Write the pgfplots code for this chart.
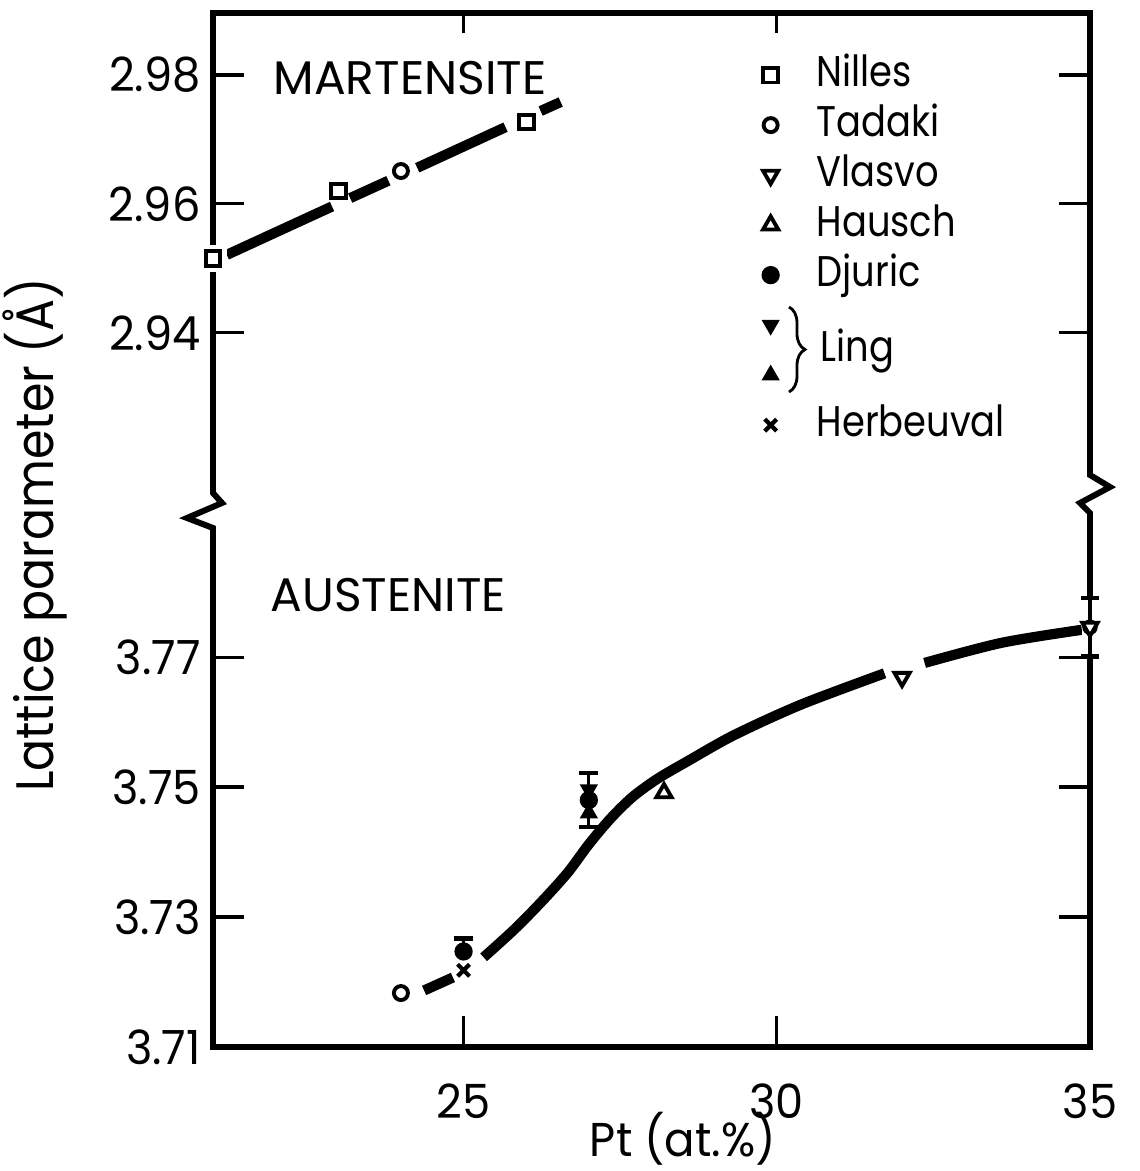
\documentclass[border=0pt]{standalone}
\usepackage{fontspec}
\setmainfont{Poppins}[FakeStretch=0.95]
\newfontfamily\ylabfont{Poppins}[FakeStretch=0.9]
\newfontfamily\legfont{Poppins}[FakeStretch=0.86]
\newfontfamily\capfont{Poppins}[FakeStretch=1.0]
\usepackage{pgfplots}
\pgfplotsset{compat=1.18}
\usetikzlibrary{decorations.pathreplacing}

\pgfplotsset{
  brk/.style={
    scale only axis, width=8.77cm, xmin=21, xmax=35, clip=false,
    anchor=south west,
    axis line style={draw=none},
    tick align=inside, major tick length=3.1mm,
    every tick/.append style={black, line width=0.9pt},
    /pgf/number format/assume math mode=true,
    tick label style={font=\fontsize{13.4}{15}\selectfont},
  },
  nil/.style={only marks, mark=square*, mark size=2.1pt, mark options={line width=1.1pt, fill=white, draw=black}},
  tad/.style={only marks, mark=*, mark size=2.0pt, mark options={line width=1.1pt, fill=white, draw=black}},
  vla/.style={only marks, mark=triangle*, mark size=2.5pt, mark options={rotate=180, line width=1.1pt, fill=white, draw=black}},
  hau/.style={only marks, mark=triangle*, mark size=2.5pt, mark options={line width=1.1pt, fill=white, draw=black}},
  dju/.style={only marks, mark=*, mark size=2.4pt, mark options={fill=black, draw=black}},
  lingd/.style={only marks, mark=triangle*, mark size=2.6pt, mark options={rotate=180, fill=black, draw=black}},
  lingu/.style={only marks, mark=triangle*, mark size=2.6pt, mark options={fill=black, draw=black}},
  her/.style={only marks, mark=x, mark size=2.4pt, mark options={line width=1.2pt, draw=black}},
  thick line/.style={black, line width=2.9pt, line cap=butt},
  eb/.style={error bars/y explicit, error bars/y dir=#1,
     error bars/error bar style={line width=0.9pt, black},
     error bars/error mark options={rotate=90, line width=1.2pt, mark size=2.7pt, black}},
}

\begin{document}
\begin{tikzpicture}
\useasboundingbox (0,0) rectangle (11.39,11.71);
% frame with break marks
\draw[line width=1.7pt, line join=miter]
  (2.13,1.24) -- (2.13,6.43) -- (1.87,6.53) -- (2.22,6.68) -- (2.13,6.78) -- (2.13,11.58)
  -- (10.90,11.58) -- (10.90,6.96) -- (11.10,6.84) -- (10.80,6.68) -- (10.90,6.58) -- (10.90,1.24) -- cycle;

% ---------------- upper part: martensite ----------------
\begin{axis}[brk, at={(2.13cm,6.53cm)}, height=5.05cm,
  ymin=2.9113, ymax=2.9896,
  ytick={2.94,2.96,2.98}, yticklabels={2.94,2.96,2.98},
  xtick={25,30}, xtick pos=top, xticklabels={},
  xtick style={/pgfplots/major tick length=2mm},
  legend cell align=left,
  legend style={at={(rel axis cs:0.6214,0.919)}, anchor=north west, draw=none, fill=none,
    inner sep=0pt, row sep=0.9mm, font=\legfont\fontsize{12.2}{14}\selectfont,
    nodes={inner sep=0pt, text height=3.2mm, text depth=0.9mm}},
  legend image code/.code={\path[draw=none, fill=none] (-1.2mm,-2mm) rectangle (4.6mm,2mm);
     \draw[mark repeat=2,mark phase=2,#1] plot coordinates {(0mm,0mm)(0mm,0mm)(0mm,0mm)};},
]
\addplot[thick line, forget plot] coordinates {(21.22,2.9521) (22.90,2.9596)};
\addplot[thick line, forget plot] coordinates {(23.19,2.9609) (23.80,2.9636)};
\addplot[thick line, forget plot] coordinates {(24.26,2.9656) (25.67,2.9719)};
\addplot[thick line, forget plot] coordinates {(26.23,2.9744) (26.55,2.9758)};
% halo where the square sits on the axis line
\addplot[only marks, mark=square*, mark size=2.1pt, mark options={white, line width=3.5pt}, forget plot] coordinates {(21,2.9515)};
\addplot[nil, forget plot] coordinates {(21,2.9515) (23,2.9620) (26,2.9727)};
\addplot[tad, forget plot] coordinates {(24,2.9651)};

\addlegendimage{nil}\addlegendentry{Nilles}
\addlegendimage{tad}\addlegendentry{Tadaki}
\addlegendimage{vla}\addlegendentry{Vlasvo}
\addlegendimage{hau}\addlegendentry{Hausch}
\addlegendimage{dju}\addlegendentry{Djuric}
\addlegendimage{lingd}\addlegendentry{\phantom{L}}
\addlegendimage{lingu}\addlegendentry{\phantom{L}}
\addlegendimage{her}\addlegendentry{Herbeuval}
\end{axis}

% ---------------- lower part: austenite ----------------
\begin{axis}[brk, at={(2.13cm,1.24cm)}, height=5.29cm,
  ymin=3.71, ymax=3.7914,
  ytick={3.71,3.73,3.75,3.77}, yticklabels={3.71,3.73,3.75,3.77},
  xtick={25,30,35}, xtick pos=bottom, xticklabels={25,30,35},
  xticklabel style={yshift=-2.4mm},
]
\addplot[thick line, forget plot] coordinates {(24.37,3.7187) (24.83,3.7207)};
\addplot[thick line, smooth, tension=0.5, forget plot] coordinates {
  (25.32,3.7238) (25.80,3.7280) (26.23,3.7322) (26.66,3.7368) (27.00,3.7412)
  (27.35,3.7452) (27.70,3.7485) (28.10,3.7513) (28.58,3.7540) (29.32,3.7580)
  (30.39,3.7627) (31.72,3.7675)};
\addplot[thick line, smooth, tension=0.5, forget plot] coordinates {
  (32.36,3.7691) (33.59,3.7722) (34.87,3.7742)};

\addplot[tad, forget plot] coordinates {(24,3.7183)};
\addplot[her, forget plot] coordinates {(25,3.7218)};
\addplot[dju, eb=plus, forget plot] coordinates {(25,3.7247) +- (0,0.0020)};
\addplot[lingd, eb=plus, forget plot] coordinates {(27,3.7496) +- (0,0.0026)};
\addplot[lingu, eb=minus, forget plot] coordinates {(27,3.7460) +- (0,0.0022)};
\addplot[dju, forget plot] coordinates {(27,3.7480)};
\addplot[hau, forget plot] coordinates {(28.2,3.7491)};
\addplot[vla, forget plot] coordinates {(32,3.7669)};
% white gap in the right axis line where the error bar replaces it
\addplot[only marks, mark=none, error bars/y explicit, error bars/y dir=both,
  error bars/error bar style={white, line width=4.5pt}, error bars/error mark=none, forget plot]
  coordinates {(35,3.7746) +- (0,0.0047)};
\addplot[vla, eb=both, forget plot] coordinates {(35,3.7746) +- (0,0.0045)};
\end{axis}

% texts
\node[anchor=base west, inner sep=0pt, font=\capfont\fontsize{13.4}{15}\selectfont] at (2.73,10.76) {MARTENSITE};
\node[anchor=base west, inner sep=0pt, font=\capfont\fontsize{13.4}{15}\selectfont] at (2.70,5.59) {AUSTENITE};
\node[anchor=base, inner sep=0pt, font=\fontsize{13.5}{15}\selectfont] at (6.83,0.15) {Pt (at.\%)};
\node[anchor=base, inner sep=0pt, rotate=90, font=\ylabfont\fontsize{15}{17}\selectfont] at (0.53,6.36) {Lattice parameter (Å)};
\draw[line width=0.8pt, decorate, decoration={brace, amplitude=1.6mm}] (7.89,8.64) -- (7.89,7.79);
\node[anchor=base west, inner sep=0pt, font=\legfont\fontsize{12.2}{14}\selectfont] at (8.20,8.09) {Ling};
\end{tikzpicture}
\end{document}
